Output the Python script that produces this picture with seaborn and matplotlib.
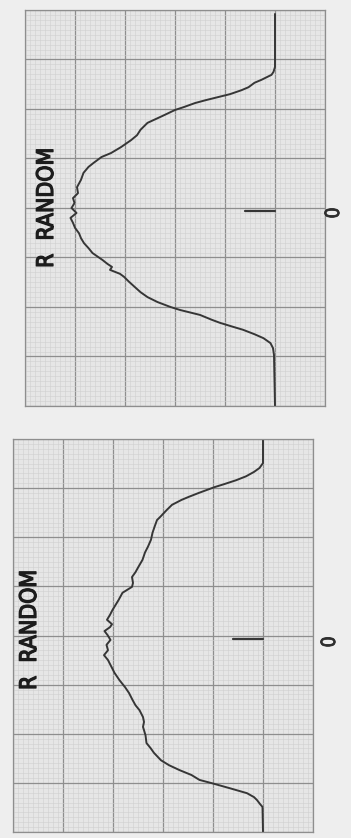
import matplotlib
matplotlib.use("Agg")
import matplotlib.pyplot as plt
import matplotlib.patheffects as pe
import seaborn as sns
import pandas as pd
from matplotlib import font_manager
from matplotlib.ticker import MultipleLocator

# ---- data (position along the scan, in chart divisions; amplitude above baseline, in divisions)
top_pos = [3.92, 3.39, 2.85, 2.75, 2.69, 2.59, 2.53, 2.44, 2.38, 2.30, 2.24, 2.18, 2.12, 2.04,
           1.98, 1.86, 1.72, 1.58, 1.47, 1.37, 1.23, 1.11, 1.03, 0.91, 0.83, 0.71, 0.57, 0.42,
           0.30, 0.20, 0.10, 0.00, -0.10, -0.20, -0.30, -0.40, -0.51, -0.61, -0.71, -0.81,
           -0.91, -1.05, -1.13, -1.19, -1.25, -1.33, -1.39, -1.49, -1.60, -1.70, -1.80, -1.90,
           -2.00, -2.06, -2.16, -2.26, -2.32, -2.40, -2.46, -2.55, -2.63, -2.73, -2.83, -2.97,
           -4.00]
top_amp = [0.00, 0.00, 0.00, 0.03, 0.07, 0.27, 0.41, 0.53, 0.67, 0.90, 1.14, 1.38, 1.60, 1.82,
           2.00, 2.25, 2.55, 2.69, 2.76, 2.88, 3.08, 3.28, 3.47, 3.63, 3.73, 3.83, 3.88, 3.96,
           3.94, 4.04, 4.01, 4.07, 3.97, 4.09, 4.04, 4.00, 3.92, 3.88, 3.82, 3.73,
           3.65, 3.45, 3.35, 3.26, 3.30, 3.10, 3.02, 2.92, 2.80, 2.69, 2.55, 2.35,
           2.09, 1.90, 1.50, 1.26, 1.10, 0.84, 0.64, 0.41, 0.23, 0.09, 0.04, 0.02,
           0.00]

bottom_pos = [4.00, 3.51, 3.41, 3.33, 3.24, 3.16, 3.08, 3.02, 2.96, 2.90, 2.82, 2.76, 2.66, 2.56,
              2.41, 2.35, 2.21, 2.09, 1.95, 1.81, 1.69, 1.54, 1.40, 1.29, 1.19, 1.07, 0.99,
              0.87, 0.72, 0.62, 0.52, 0.42, 0.32, 0.23, 0.17, 0.09, 0.01, -0.09, -0.19, -0.30,
              -0.40, -0.50, -0.64, -0.76, -0.91, -1.05, -1.17, -1.31, -1.42, -1.52, -1.66,
              -1.76, -1.86, -2.03, -2.19, -2.29, -2.39, -2.54, -2.64, -2.74, -2.84, -2.94,
              -3.01, -3.11, -3.21, -3.29, -3.35, -3.43, -3.49, -4.00]
bottom_amp = [0.00, 0.00, 0.07, 0.18, 0.34, 0.54, 0.78, 0.97, 1.13, 1.29, 1.49, 1.63, 1.82, 1.92,
              2.06, 2.12, 2.17, 2.21, 2.24, 2.30, 2.36, 2.41, 2.49, 2.55, 2.62, 2.60, 2.62,
              2.81, 2.89, 2.95, 3.01, 3.06, 3.12, 3.02, 3.06, 3.17, 3.11, 3.05, 3.13, 3.10,
              3.18, 3.10, 3.03, 2.97, 2.87, 2.76, 2.68, 2.61, 2.55, 2.47, 2.40,
              2.38, 2.40, 2.35, 2.33, 2.25, 2.18, 2.04, 1.88, 1.67, 1.43, 1.27,
              1.01, 0.66, 0.32, 0.18, 0.12, 0.06, 0.01, 0.00]

panel_titles = ["R  RANDOM", "R  RANDOM"]
center_label = "0"
center_mark_pos = [-0.07, -0.07]
center_mark_len = 0.6

# ---- style
sns.set_style("white")
plt.rcParams["font.family"] = ["DejaVu Sans"]


def pick_title_font():
    # prefer a condensed sans face, like the recorder lettering
    try:
        f = font_manager.findfont(font_manager.FontProperties(family="Liberation Sans Narrow"),
                                  fallback_to_default=False)
        if "Narrow" in f:
            return font_manager.FontProperties(fname=f), 18
    except Exception:
        pass
    try:
        f = font_manager.findfont(font_manager.FontProperties(family="DejaVu Sans",
                                                              stretch="condensed"),
                                  fallback_to_default=False)
        if "Condensed" in f:
            return font_manager.FontProperties(fname=f), 16.5
    except Exception:
        pass
    return font_manager.FontProperties(family=["Roboto", "DejaVu Sans"], weight="medium"), 16


title_fp, title_size = pick_title_font()
medium = [pe.withStroke(linewidth=0.9, foreground="#1c1c1c")]

paper = "#e6e6e6"
major_c = "#8e8e8e"
minor_c = "#d0d0d0"
ink = "#363636"

fig = plt.figure(figsize=(3.51, 8.38), dpi=100, facecolor="#eeeeee")
W, H = 351.0, 838.0
# [left, top, right, bottom] in pixels
rects = [(25, 10, 325, 406), (13, 439, 313, 832)]
title_xy = [(4.57, 0.0), (4.67, 0.11)]
zero_xy = [(-1.17, -0.10), (-1.33, -0.13)]
series = [(top_pos, top_amp), (bottom_pos, bottom_amp)]

for i, (l, t, r, b) in enumerate(rects):
    ax = fig.add_axes([l / W, 1 - b / H, (r - l) / W, (b - t) / H])
    ax.set_facecolor(paper)
    pos, amp = series[i]
    df = pd.DataFrame({"amplitude": amp, "position": pos})
    sns.lineplot(data=df, x="amplitude", y="position", sort=False, estimator=None,
                 color=ink, linewidth=1.4, ax=ax)
    ax.set_xlim(5, -1)
    ax.set_ylim(-4, 4)
    ax.xaxis.set_major_locator(MultipleLocator(1))
    ax.yaxis.set_major_locator(MultipleLocator(1))
    ax.xaxis.set_minor_locator(MultipleLocator(0.1))
    ax.yaxis.set_minor_locator(MultipleLocator(0.1))
    ax.set_axisbelow(True)
    ax.grid(which="minor", color=minor_c, linewidth=0.4)
    ax.grid(which="major", color=major_c, linewidth=0.9)
    ax.tick_params(which="both", length=0, labelbottom=False, labelleft=False)
    ax.set_xlabel("")
    ax.set_ylabel("")
    for s in ax.spines.values():
        s.set_color(major_c)
        s.set_linewidth(0.9)
    # center marker
    ax.plot([0, center_mark_len], [center_mark_pos[i]] * 2, color=ink, linewidth=1.6)
    tx, ty = title_xy[i]
    ax.text(tx, ty, panel_titles[i], rotation=90, ha="center", va="center",
            fontproperties=title_fp, fontsize=title_size, color="#1c1c1c",
            path_effects=medium)
    zx, zy = zero_xy[i]
    ax.text(zx, zy, center_label, rotation=90, ha="center", va="center",
            fontproperties=title_fp, fontsize=14, color="#2e2e2e", clip_on=False,
            path_effects=[pe.withStroke(linewidth=0.6, foreground="#2e2e2e")])

fig.savefig("out.png", dpi=100, facecolor=fig.get_facecolor())
